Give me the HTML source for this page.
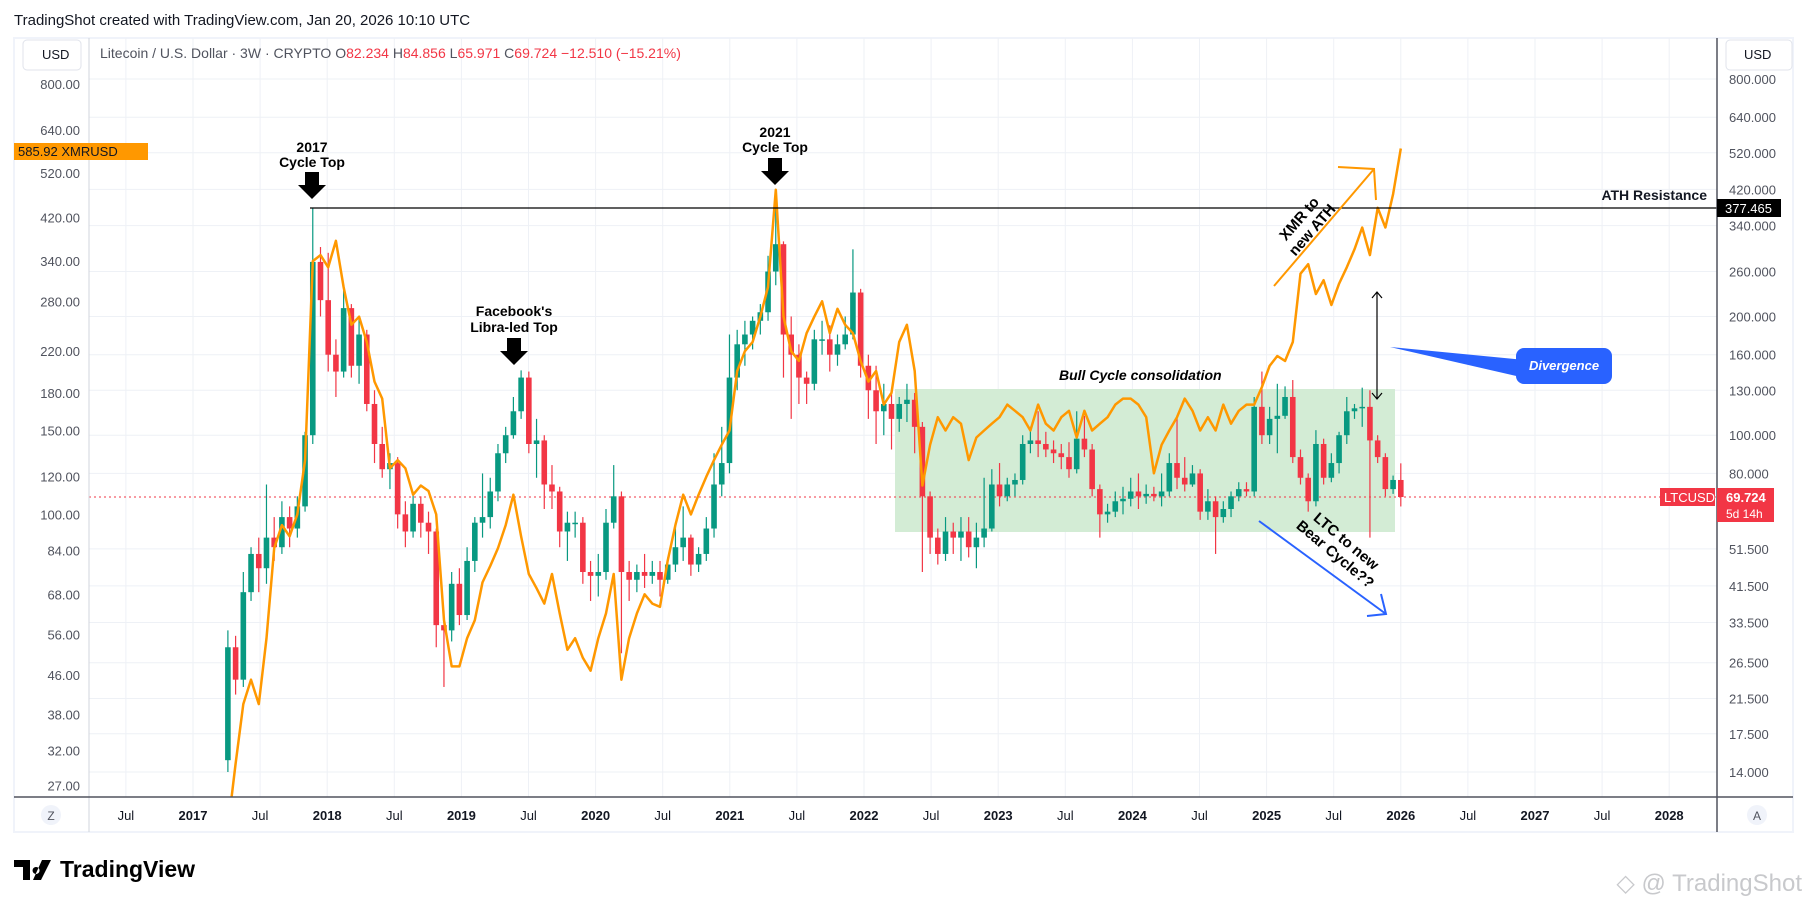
<!DOCTYPE html>
<html><head><meta charset="utf-8"><style>
body{margin:0;background:#fff;width:1811px;height:908px;overflow:hidden;font-family:"Liberation Sans",sans-serif}
svg{position:absolute;left:0;top:0}
</style></head><body>
<svg id="c" width="1811" height="908" viewBox="0 0 1811 908">
<defs><clipPath id="pc"><rect x="89" y="38" width="1628" height="759"/></clipPath></defs>
<text x="14" y="25" font-size="15" fill="#131722">TradingShot created with TradingView.com, Jan 20, 2026 10:10 UTC</text>
<rect x="14" y="38" width="1779" height="794" fill="#fff" stroke="#f0f3fa" stroke-width="2"/>
<g id="grid"></g>
<rect x="895" y="389" width="500" height="143" fill="#d3ecd5"/>
<line x1="89" y1="497" x2="1717" y2="497" stroke="#f23645" stroke-dasharray="2,3" stroke-width="1"/>
<g id="marks" clip-path="url(#pc)"></g>
<line x1="310" y1="208" x2="1717" y2="208" stroke="#000" stroke-width="1.2"/>
<text x="1707" y="200" font-size="14" font-weight="bold" text-anchor="end" fill="#131722">ATH Resistance</text>
<!-- annotations -->
<g font-weight="bold" font-size="14" text-anchor="middle" fill="#000">
<text x="312" y="152">2017</text>
<text x="312" y="167">Cycle Top</text>
<polygon points="305,172 319,172 319,185 326,185 312,199 298,185 305,185"/>
<text x="775" y="137">2021</text>
<text x="775" y="152">Cycle Top</text>
<polygon points="768,158 782,158 782,171 789,171 775,185 761,171 768,171"/>
<text x="514" y="316">Facebook's</text>
<text x="514" y="332">Libra-led Top</text>
<polygon points="507,338 521,338 521,351 528,351 514,365 500,351 507,351"/>
</g>
<text x="1059" y="380" font-size="14" font-weight="bold" font-style="italic" fill="#000">Bull Cycle consolidation</text>
<g stroke="#ff9800" stroke-width="2" fill="none">
<line x1="1274" y1="286" x2="1374" y2="169"/><polyline points="1338,167 1374,169 1376,200"/></g>
<text transform="translate(1303,222) rotate(-49)" font-size="15" font-weight="bold" text-anchor="middle" fill="#000"><tspan x="0" y="0">XMR to</tspan><tspan x="0" y="17">new ATH</tspan></text>
<g stroke="#000" stroke-width="1.2" fill="none">
<line x1="1377" y1="292" x2="1377" y2="399"/><polyline points="1372,298 1377,292 1382,298"/><polyline points="1372,393 1377,399 1382,393"/></g>
<polygon points="1390,347 1525,360 1525,378" fill="#2962ff"/>
<rect x="1516" y="348" width="96" height="36" rx="8" fill="#2962ff"/>
<text x="1564" y="370" font-size="13" font-weight="bold" font-style="italic" text-anchor="middle" fill="#fff">Divergence</text>
<g stroke="#2962ff" stroke-width="2" fill="none">
<line x1="1259" y1="521" x2="1386" y2="614"/><polyline points="1381,594 1386,614 1367,616"/></g>
<text transform="translate(1343,545) rotate(40)" font-size="15" font-weight="bold" text-anchor="middle" fill="#000"><tspan x="0" y="0">LTC to new</tspan><tspan x="0" y="17">Bear Cycle??</tspan></text>
<!-- axes -->
<line x1="89" y1="38" x2="89" y2="832" stroke="#d1d4dc"/>
<line x1="1717" y1="38" x2="1717" y2="832" stroke="#50535e" stroke-width="1.5"/>
<line x1="14" y1="797" x2="1793" y2="797" stroke="#50535e" stroke-width="1.5"/>
<g id="axes"></g>
<rect x="23" y="40" width="58" height="30" rx="4" fill="#fff" stroke="#e0e3eb"/>
<text x="42" y="59" font-size="13" fill="#131722">USD</text>
<rect x="1726" y="40" width="66" height="30" rx="4" fill="#fff" stroke="#e0e3eb"/>
<text x="1744" y="59" font-size="13" fill="#131722">USD</text>
<text x="100" y="58" font-size="14" fill="#50535e">Litecoin / U.S. Dollar · 3W · CRYPTO  O<tspan fill="#f23645">82.234</tspan>  H<tspan fill="#f23645">84.856</tspan>  L<tspan fill="#f23645">65.971</tspan>  C<tspan fill="#f23645">69.724</tspan>  <tspan fill="#f23645">−12.510 (−15.21%)</tspan></text>
<rect x="14" y="143" width="134" height="17" fill="#ff9800"/>
<text x="18" y="156" font-size="13" fill="#131722">585.92  XMRUSD</text>
<rect x="1717" y="199" width="64" height="18" fill="#000"/>
<text x="1725" y="213" font-size="13" fill="#fff">377.465</text>
<rect x="1660" y="488" width="55" height="18" fill="#f23645"/>
<text x="1664" y="502" font-size="13" fill="#fff">LTCUSD</text>
<rect x="1717" y="488" width="57" height="34" fill="#f23645"/>
<text x="1726" y="502" font-size="13" font-weight="bold" fill="#fff">69.724</text>
<text x="1726" y="518" font-size="12" fill="#fff">5d 14h</text>
<circle cx="51" cy="815" r="10" fill="#f0f3fa"/>
<text x="51" y="820" font-size="12" text-anchor="middle" fill="#50535e">Z</text>
<circle cx="1757" cy="815" r="10" fill="#f0f3fa"/>
<text x="1757" y="820" font-size="12" text-anchor="middle" fill="#50535e">A</text>
<g>
<path d="M14 860h16v20h-7v-13h-9z M36 867a3.5 3.5 0 1 0 0.1 0z M42 860h9l-10 20h-8z" fill="#000"/>
<text x="60" y="877" font-size="23" font-weight="bold" fill="#000">TradingView</text></g>
<text x="1802" y="891" font-size="24" text-anchor="end" fill="#c8c9cc">◇ @ TradingShot</text>
</svg>
<script>
const ltcClose=[29,24,40,50,46,55,52,62,58,66,100,275,
220,160,145,210,150,180,120,95,82,85,63,57,67,60,57,33,
32,42,35,48,60,62,72,90,100,115,140,
95,97,75,72,57,60,60,45,44,45,
60,70,45,43,45,44,45,43,47,52,55,47,50,58,75,85,
140,170,180,195,205,260,305,180,160,140,135,175,175,160,170,180,230,
150,130,115,120,110,120,123,105,70,55,50,57,55,57,52,55,58,
75,70,75,77,95,97,95,92,90,88,82,98,92,73,63,64,68,69,72,
70,71,70,72,85,78,75,80,64,68,62,65,70,73,72,
118,100,110,112,125,88,78,68,95,78,85,100,115,117,118,97,88,73,77,69.724];
const ltcHigh=[32,31,45,52,55,75,62,68,66,70,102,377,
300,290,175,240,215,200,185,130,105,90,88,68,72,70,64,58,
36,45,46,52,62,80,78,95,105,125,146,
145,110,100,84,74,64,64,62,48,50,
65,84,72,48,47,50,48,48,49,60,66,56,52,62,90,105,
180,185,195,200,215,285,413,310,200,170,145,185,195,190,180,200,296,
235,160,150,135,130,125,135,128,108,72,58,62,60,62,62,60,78,
82,85,78,80,100,105,115,102,97,95,96,115,112,95,75,67,72,74,78,
80,75,74,80,90,112,88,84,82,73,70,68,72,76,76,
125,145,118,135,133,138,92,80,103,98,90,102,125,120,132,130,100,90,79,84.856];
const ltcLow=[14,22,23,38,40,42,48,50,52,55,64,95,
200,145,125,140,140,135,115,85,78,73,58,52,55,55,50,29,
23,30,33,34,45,55,58,68,85,98,110,
90,78,65,65,52,48,55,42,38,39,
43,58,28,38,40,41,42,39,42,45,48,44,45,48,55,70,
80,130,150,165,180,195,240,140,110,120,120,130,160,145,150,165,175,
140,110,95,100,92,102,108,90,45,50,47,48,50,48,49,46,52,
57,66,68,70,75,90,88,88,85,82,78,80,88,70,55,60,62,63,66,
65,67,68,66,70,73,72,74,61,61,50,60,62,68,70,
70,95,95,90,110,85,75,64,66,75,76,80,95,110,105,55,85,70,71,65.971];
const xmrClose=[22,30,40,45,40,55,85,95,90,100,130,340,350,
330,375,300,250,260,230,190,175,125,130,125,110,115,112,100,60,48,
48,55,60,72,78,85,95,110,90,75,70,65,75,62,52,55,50,47,
55,62,75,45,55,62,68,65,64,80,95,110,100,110,120,130,140,
150,200,220,230,260,300,480,260,220,210,240,260,280,240,270,250,240,
210,190,200,170,180,230,250,200,115,140,160,150,160,155,130,145,150,
155,160,170,165,160,150,170,155,150,160,165,145,165,150,155,160,170,175,175,
170,160,122,140,150,160,175,165,150,160,150,170,155,165,170,
170,185,205,215,210,230,320,335,290,310,275,305,330,360,400,350,440,400,470,585.92];
const leftTicks=[800,640,520,420,340,280,220,180,150,120,100,84,68,56,46,38,32,27];
const rightTicks=[800,640,520,420,340,260,200,160,130,100,80,51.5,41.5,33.5,26.5,21.5,17.5,14];
const timeLabels=["Jul","2017","Jul","2018","Jul","2019","Jul","2020","Jul","2021","Jul","2022","Jul","2023","Jul","2024","Jul","2025","Jul","2026","Jul","2027","Jul","2028"];
const timeValues=[2016.5,2017,2017.5,2018,2018.5,2019,2019.5,2020,2020.5,2021,2021.5,2022,2022.5,2023,2023.5,2024,2024.5,2025,2025.5,2026,2026.5,2027,2027.5,2028];
const startT=2017.26, stepT=0.0575;

const NS="http://www.w3.org/2000/svg";
const xOf=t=>193+(t-2017)*134.2;
const yR=v=>79+171.3*Math.log(800/v);
const yL=v=>84+207*Math.log(800/v);
function mk(tag,attrs,parent){const e=document.createElementNS(NS,tag);for(const k in attrs)e.setAttribute(k,attrs[k]);parent.appendChild(e);return e;}
const grid=document.getElementById('grid'),axes=document.getElementById('axes'),marks=document.getElementById('marks');
rightTicks.forEach(v=>{
  const l=mk('line',{x1:89,x2:1717,y1:yR(v),y2:yR(v),stroke:'#eef1f6'},grid);
  
  
  const t=mk('text',{x:1729,y:yR(v)+5,'font-size':13,fill:'#50535e'},axes);
  t.textContent=v.toFixed(3);
  
  
});
leftTicks.forEach(v=>{
  const t=mk('text',{x:80,y:yL(v)+5,'font-size':13,fill:'#50535e','text-anchor':'end'},axes);
  t.textContent=v.toFixed(2);
  
  
});
timeValues.forEach((tv,i)=>{
  const x=xOf(tv);
  const l=mk('line',{x1:x,x2:x,y1:38,y2:797,stroke:'#eef1f6'},grid);
  
  
  const isYear=timeLabels[i]!=="Jul";
  const t=mk('text',{x:x,y:820,'font-size':13,'text-anchor':'middle',fill:'#131722','font-weight':isYear?'bold':'normal'},axes);
  t.textContent=timeLabels[i];
  
  
});
// XMR line
let d='';
xmrClose.forEach((v,i)=>{d+=(i?'L':'M')+xOf(startT+i*stepT).toFixed(1)+' '+yL(v).toFixed(1);});
// candles
ltcClose.forEach((c,i)=>{
  const o=i?ltcClose[i-1]:15;
  const x=xOf(startT+i*stepT);
  const col=c>=o?'#089981':'#f23645';
  const w=mk('line',{x1:x,x2:x,y1:yR(ltcHigh[i]),y2:yR(ltcLow[i]),stroke:col,'stroke-width':1.2},marks);
  
  
  const top=Math.min(yR(o),yR(c)),h=Math.max(1.5,Math.abs(yR(o)-yR(c)));
  const b=mk('rect',{x:x-2.8,y:top,width:5.6,height:h,fill:col},marks);
  
  
});
const p=mk('path',{d:d,fill:'none',stroke:'#ff9800','stroke-width':2.5,'stroke-linejoin':'round'},marks);


</script>
</body></html>
